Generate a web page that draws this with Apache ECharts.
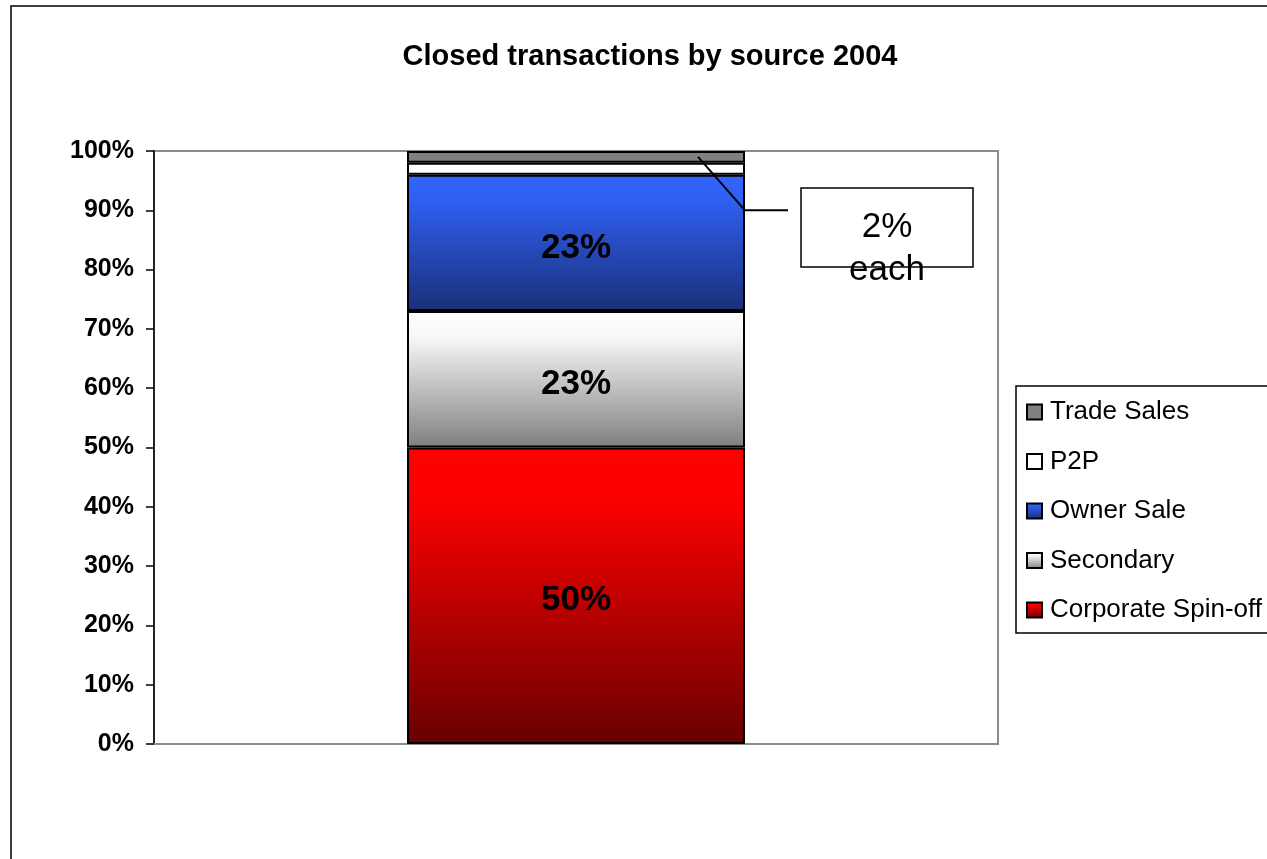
<!DOCTYPE html>
<html>
<head>
<meta charset="utf-8">
<title>Closed transactions by source 2004</title>
<script src="https://cdn.jsdelivr.net/npm/echarts@6/dist/echarts.min.js"></script>
<style>
  html, body { margin: 0; padding: 0; background: #fff; }
  #chart { width: 1267px; height: 859px; }
</style>
</head>
<body>
<div id="chart"></div>
<script>
// data (percent of closed transactions, 2004)
const categories = ['2004'];
const corporateSpinOff = [50];
const secondary = [23];
const ownerSale = [23];
const p2p = [2];
const tradeSales = [2];
const legendOrder = ['Trade Sales', 'P2P', 'Owner Sale', 'Secondary', 'Corporate Spin-off'];

const font = "'Liberation Sans', Arial, sans-serif";
const grad = (top, mid, bottom) => new echarts.graphic.LinearGradient(0, 0, 0, 1, [
  { offset: 0, color: top },
  { offset: 0.2, color: mid },
  { offset: 1, color: bottom },
]);

const barLabel = {
  show: true,
  position: 'inside',
  offset: [0, 5],
  formatter: (p) => p.value + '%',
  fontFamily: font,
  fontSize: 35,
  fontWeight: 'bold',
  color: '#000',
};

function bar(name, data, color, label) {
  return {
    name: name,
    type: 'bar',
    stack: 'total',
    barWidth: 338,
    data: data,
    itemStyle: { color: color, borderColor: '#000', borderWidth: 2 },
    label: label ? barLabel : { show: false },
    emphasis: { disabled: true },
  };
}

const chart = echarts.init(document.getElementById('chart'));
chart.setOption({
  animation: false,
  title: {
    text: 'Closed transactions by source 2004',
    left: 650,
    top: 42,
    padding: 0,
    textAlign: 'center',
    textStyle: { fontFamily: font, fontSize: 29, fontWeight: 'bold', color: '#000' },
  },
  legend: {
    data: legendOrder,
    orient: 'vertical',
    left: 1016,
    top: 386,
    padding: [13, 12, 10, 10],
    itemGap: 23.5,
    itemWidth: 15,
    itemHeight: 15,
    icon: 'rect',
    borderColor: '#000',
    borderWidth: 1.5,
    selectedMode: false,
    textStyle: { fontFamily: font, fontSize: 26, color: '#000', padding: [0, 0, 0, 3] },
  },
  grid: {
    left: 154,
    top: 151,
    right: 269,
    bottom: 115,
    show: true,
    borderColor: '#8a8a8a',
    borderWidth: 2,
    containLabel: false,
  },
  xAxis: {
    type: 'category',
    data: categories,
    axisLine: { lineStyle: { color: '#8a8a8a', width: 2 } },
    axisTick: { show: false },
    axisLabel: { show: false },
  },
  yAxis: {
    type: 'value',
    min: 0,
    max: 100,
    interval: 10,
    splitLine: { show: false },
    axisLine: { show: true, lineStyle: { color: '#000', width: 1.5 } },
    axisTick: { show: true, length: 8, lineStyle: { color: '#000', width: 1.5 } },
    axisLabel: {
      formatter: '{value}%',
      margin: 20,
      fontFamily: font,
      fontSize: 25,
      fontWeight: 'bold',
      color: '#000',
    },
  },
  series: [
    bar('Corporate Spin-off', corporateSpinOff, grad('#ff0000', '#f80000', '#680000'), true),
    bar('Secondary', secondary, grad('#ffffff', '#f6f6f6', '#7f7f7f'), true),
    bar('Owner Sale', ownerSale, grad('#3366ff', '#2f5ef0', '#1a2f78'), true),
    bar('P2P', p2p, '#ffffff', false),
    bar('Trade Sales', tradeSales, '#808080', false),
  ],
});

// callout "2% each": leader line from the small segments, box to its right
const barRight = chart.convertToPixel({ gridIndex: 0 }, [0, 0])[0] + 169;
const startPt = chart.convertToPixel({ gridIndex: 0 }, [0, 99]);
const elbowY = chart.convertToPixel({ gridIndex: 0 }, [0, 90])[1];

chart.setOption({
  graphic: [
    {
      type: 'rect',
      silent: true,
      shape: { x: 11, y: 6, width: 1400, height: 1000 },
      style: { fill: 'none', stroke: '#000', lineWidth: 1.5 },
    },
    {
      type: 'polyline',
      silent: true,
      z: 100,
      shape: { points: [[startPt[0] + 122, startPt[1]], [barRight, elbowY], [barRight + 43, elbowY]] },
      style: { stroke: '#000', lineWidth: 2, fill: 'none' },
    },
    {
      type: 'rect',
      silent: true,
      z: 100,
      shape: { x: 801, y: 188, width: 172, height: 79 },
      style: { fill: '#fff', stroke: '#000', lineWidth: 1.5 },
    },
    {
      type: 'text',
      silent: true,
      z: 101,
      x: 887,
      y: 227,
      style: { text: '2%', fontFamily: font, fontSize: 35, fill: '#000', align: 'center', verticalAlign: 'middle' },
    },
    {
      type: 'text',
      silent: true,
      z: 101,
      x: 887,
      y: 270,
      style: { text: 'each', fontFamily: font, fontSize: 35, fill: '#000', align: 'center', verticalAlign: 'middle' },
    },
  ],
});
</script>
</body>
</html>
